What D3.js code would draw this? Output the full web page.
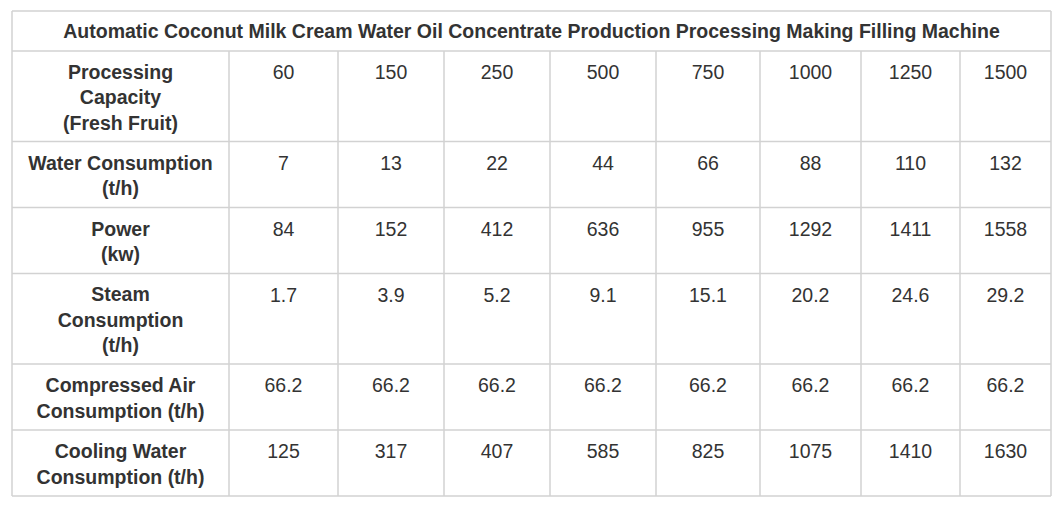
<!DOCTYPE html>
<html><head><meta charset="utf-8">
<script src="https://cdn.jsdelivr.net/npm/d3@7"></script>
<style>body{margin:0;background:#fff}svg{display:block}</style>
</head><body>
<script>
const title = "Automatic Coconut Milk Cream Water Oil Concentrate Production Processing Making Filling Machine";
const capacity = ["60","150","250","500","750","1000","1250","1500"];
const waterConsumption = ["7","13","22","44","66","88","110","132"];
const power = ["84","152","412","636","955","1292","1411","1558"];
const steamConsumption = ["1.7","3.9","5.2","9.1","15.1","20.2","24.6","29.2"];
const compressedAir = ["66.2","66.2","66.2","66.2","66.2","66.2","66.2","66.2"];
const coolingWater = ["125","317","407","585","825","1075","1410","1630"];
const rowLabels = [
  ["Processing","Capacity","(Fresh Fruit)"],
  ["Water Consumption","(t/h)"],
  ["Power","(kw)"],
  ["Steam","Consumption","(t/h)"],
  ["Compressed Air","Consumption (t/h)"],
  ["Cooling Water","Consumption (t/h)"]
];
const rowValues = [capacity, waterConsumption, power, steamConsumption, compressedAir, coolingWater];

const W = 1060, H = 511;
const tLeft = 12, tRight = 1051, tTop = 11, titleH = 40;
const colEdges = [tLeft, 229, 338, 444, 550, 656, 760, 861, 960, tRight];
const lineH = 25.5;
const fontSize = 19.5;
const border = "#d2d2d2", ink = "#333";

const svg = d3.select("body").append("svg").attr("width", W).attr("height", H)
  .style("font-family", "'Liberation Sans', Arial, sans-serif");
svg.append("rect").attr("width", W).attr("height", H).attr("fill", "#fff");

let yPos = tTop + titleH;
const rows = rowLabels.map((lab, i) => {
  const h = 17 + 24.5 * lab.length;
  const r = {y0: yPos, h, labels: lab, values: rowValues[i]};
  yPos += h;
  return r;
});
const tBottom = yPos;

svg.append("text").attr("x", (tLeft + tRight) / 2).attr("y", tTop + titleH / 2)
  .attr("text-anchor", "middle").attr("dominant-baseline", "central")
  .attr("font-size", fontSize).attr("font-weight", "bold").attr("fill", ink).text(title);

const g = svg.selectAll("g.row").data(rows).join("g").attr("class", "row");
g.each(function(r) {
  const sel = d3.select(this);
  const cx = (colEdges[0] + colEdges[1]) / 2;
  const cy = r.y0 + r.h / 2 + 1;
  const n = r.labels.length;
  sel.selectAll("text.lab").data(r.labels).join("text").attr("class", "lab")
    .attr("x", cx).attr("y", (d, k) => cy + (k - (n - 1) / 2) * lineH)
    .attr("text-anchor", "middle").attr("dominant-baseline", "central")
    .attr("font-size", fontSize).attr("font-weight", "bold").attr("fill", ink).text(d => d);
  sel.selectAll("text.val").data(r.values).join("text").attr("class", "val")
    .attr("x", (d, k) => (colEdges[k + 1] + colEdges[k + 2]) / 2)
    .attr("y", r.y0 + 21)
    .attr("text-anchor", "middle").attr("dominant-baseline", "central")
    .attr("font-size", fontSize).attr("fill", ink).text(d => d);
});

const lines = svg.append("g").attr("stroke", border).attr("stroke-width", 1.5).attr("fill", "none");
const hy = [tTop, tTop + titleH, ...rows.map(r => r.y0 + r.h)];
hy.forEach(v => lines.append("line").attr("x1", tLeft).attr("x2", tRight).attr("y1", v).attr("y2", v));
lines.append("line").attr("x1", tLeft).attr("x2", tLeft).attr("y1", tTop).attr("y2", tBottom);
lines.append("line").attr("x1", tRight).attr("x2", tRight).attr("y1", tTop).attr("y2", tBottom);
colEdges.slice(1, -1).forEach(v => lines.append("line").attr("x1", v).attr("x2", v).attr("y1", tTop + titleH).attr("y2", tBottom));
</script>
</body></html>
